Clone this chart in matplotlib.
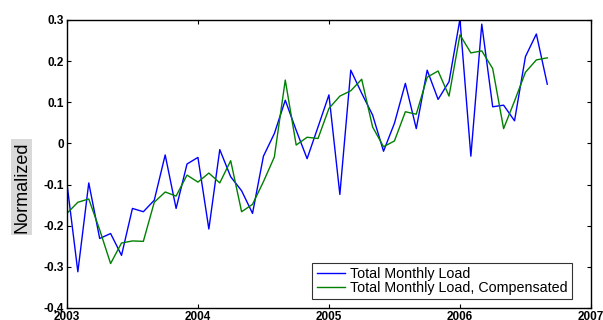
import numpy as np
from matplotlib import pyplot as plt

# monthly values starting Jan 2003
blue_load = [-0.097, -0.312, -0.096, -0.231, -0.219, -0.272, -0.158, -0.166, -0.138, -0.028,
             -0.158, -0.050, -0.034, -0.208, -0.015, -0.081, -0.115, -0.170, -0.031, 0.024,
             0.105, 0.032, -0.037, 0.040, 0.118, -0.124, 0.178, 0.122, 0.069, -0.019,
             0.049, 0.146, 0.036, 0.178, 0.107, 0.150, 0.302, -0.031, 0.290, 0.089,
             0.093, 0.055, 0.211, 0.266, 0.144]
green_comp = [-0.170, -0.143, -0.135, -0.210, -0.292, -0.242, -0.237, -0.238, -0.143, -0.118,
              -0.128, -0.077, -0.094, -0.072, -0.096, -0.042, -0.166, -0.148, -0.093, -0.033,
              0.154, -0.004, 0.015, 0.012, 0.085, 0.115, 0.128, 0.156, 0.040, -0.008,
              0.006, 0.077, 0.071, 0.161, 0.176, 0.115, 0.264, 0.220, 0.225, 0.182,
              0.036, 0.103, 0.173, 0.203, 0.208]
start_year = 2003
xticks = [2003, 2004, 2005, 2006, 2007]
yticks = [-0.4, -0.3, -0.2, -0.1, 0, 0.1, 0.2, 0.3]
ytick_labels = ['-0.4', '-0.3', '-0.2', '-0.1', '0', '0.1', '0.2', '0.3']

t = start_year + np.arange(len(blue_load)) / 12.0

fig = plt.figure(figsize=(6.03, 3.2), dpi=100)
ax = fig.add_axes([0.111, 0.0375, 0.869, 0.9])
ax.plot(t, blue_load, color='#0000ff', lw=1.0, label='Total Monthly Load')
ax.plot(t, green_comp, color='#008000', lw=1.0, label='Total Monthly Load, Compensated')

ax.set_xlim(2003, 2007)
ax.set_ylim(-0.4, 0.3)
ax.set_xticks(xticks)
ax.set_yticks(yticks)
ax.set_yticklabels(ytick_labels)
ax.tick_params(direction='in', top=True, right=True, length=3, width=0.8,
               labelsize=8.5, pad=2)
for lab in ax.get_xticklabels() + ax.get_yticklabels():
    lab.set_fontfamily('Liberation Sans')
    lab.set_fontweight('bold')
for s in ax.spines.values():
    s.set_linewidth(1.0)

ax.set_ylabel('Normalized', fontsize=13, family='Liberation Sans',
              bbox=dict(facecolor='#d9d9d9', edgecolor='none', pad=1.5))
ax.yaxis.set_label_coords(-0.07, 0.42)

leg = ax.legend(loc='lower right', bbox_to_anchor=(0.963, 0.03),
                prop={'family': 'Liberation Sans', 'size': 10.3},
                frameon=True, fancybox=False, edgecolor='black',
                borderpad=0.3, labelspacing=0.0, handlelength=2.0, handletextpad=0.3,
                borderaxespad=0)
leg.get_frame().set_linewidth(0.8)

fig.savefig('out.png', dpi=100)
